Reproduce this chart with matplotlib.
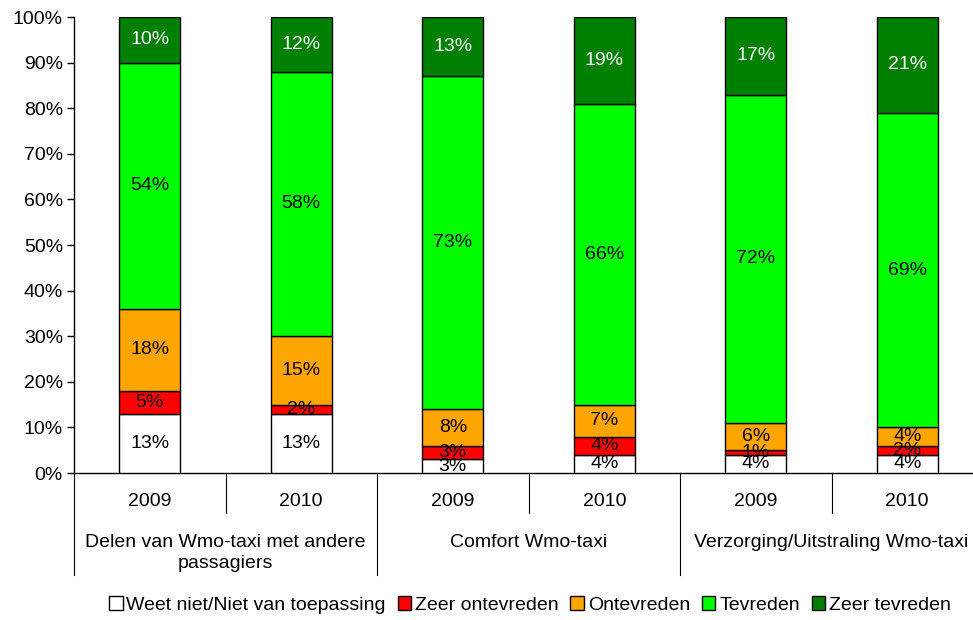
import matplotlib
matplotlib.use("Agg")
import matplotlib.pyplot as plt
from matplotlib.patches import Patch
import numpy as np

plt.rcParams['font.family'] = ['Liberation Sans', 'DejaVu Sans']

years = ["2009", "2010", "2009", "2010", "2009", "2010"]
groups = ["Delen van Wmo-taxi met andere\npassagiers", "Comfort Wmo-taxi", "Verzorging/Uitstraling Wmo-taxi"]
series = ["Weet niet/Niet van toepassing", "Zeer ontevreden", "Ontevreden", "Tevreden", "Zeer tevreden"]
weet_niet = [13, 13, 3, 4, 4, 4]
zeer_ontevreden = [5, 2, 3, 4, 1, 2]
ontevreden = [18, 15, 8, 7, 6, 4]
tevreden = [54, 58, 73, 66, 72, 69]
zeer_tevreden = [10, 12, 13, 19, 17, 21]

values = [weet_niet, zeer_ontevreden, ontevreden, tevreden, zeer_tevreden]
colors = ["#FFFFFF", "#FF0000", "#FFA500", "#00FF00", "#008000"]
text_colors = ["black", "black", "black", "black", "white"]

FS = 14

fig = plt.figure(figsize=(9.73, 6.2), dpi=100)
ax = fig.add_axes([74/973, 1-473/620, 909/973, 456/620])

x = np.arange(len(years))
bottom = np.zeros(len(years))
for vals, c, tc in zip(values, colors, text_colors):
    v = np.array(vals, dtype=float)
    ax.bar(x, v, width=0.4, bottom=bottom, color=c, edgecolor="black", linewidth=1.0, zorder=3)
    for xi, b, h in zip(x, bottom, v):
        ax.text(xi, b + h/2, f"{int(h)}%", ha="center", va="center", fontsize=FS, color=tc, zorder=4)
    bottom += v

ax.set_xlim(-0.5, len(years) - 0.5)
ax.set_ylim(0, 100)
ax.set_yticks(np.arange(0, 101, 10))
ax.set_yticklabels([f"{t}%" for t in range(0, 101, 10)], fontsize=FS)
ax.tick_params(axis='y', direction='out', length=5, width=1, pad=3)
ax.set_xticks([])
for s in ["top", "right"]:
    ax.spines[s].set_visible(False)
ax.spines["bottom"].set_linewidth(1)
ax.spines["left"].set_linewidth(1)

trans = ax.get_xaxis_transform()
# year labels
for xi, yr in zip(x, years):
    ax.text(xi, -0.062, yr, transform=trans, ha="center", va="center", fontsize=FS)
# separators
short_y = -40/456
long_y = -102/456
for i in range(len(years) + 1):
    xb = i - 0.5
    yend = long_y if i % 2 == 0 else short_y
    ax.plot([xb, xb], [0, yend], transform=trans, color="black", linewidth=0.8, clip_on=False)
# group labels
for gi, g in enumerate(groups):
    ax.text(2*gi + 0.5, -0.133, g, transform=trans, ha="center", va="top", fontsize=FS, linespacing=1.3)

handles = [Patch(facecolor=c, edgecolor="black", label=s) for c, s in zip(colors, series)]
fig.legend(handles=handles, loc="center", bbox_to_anchor=(530/973, 1-605/620), ncol=5, frameon=False,
           fontsize=FS, handlelength=0.7, handleheight=0.7, handletextpad=0.2, columnspacing=0.6)

fig.savefig("out.png", dpi=100)
